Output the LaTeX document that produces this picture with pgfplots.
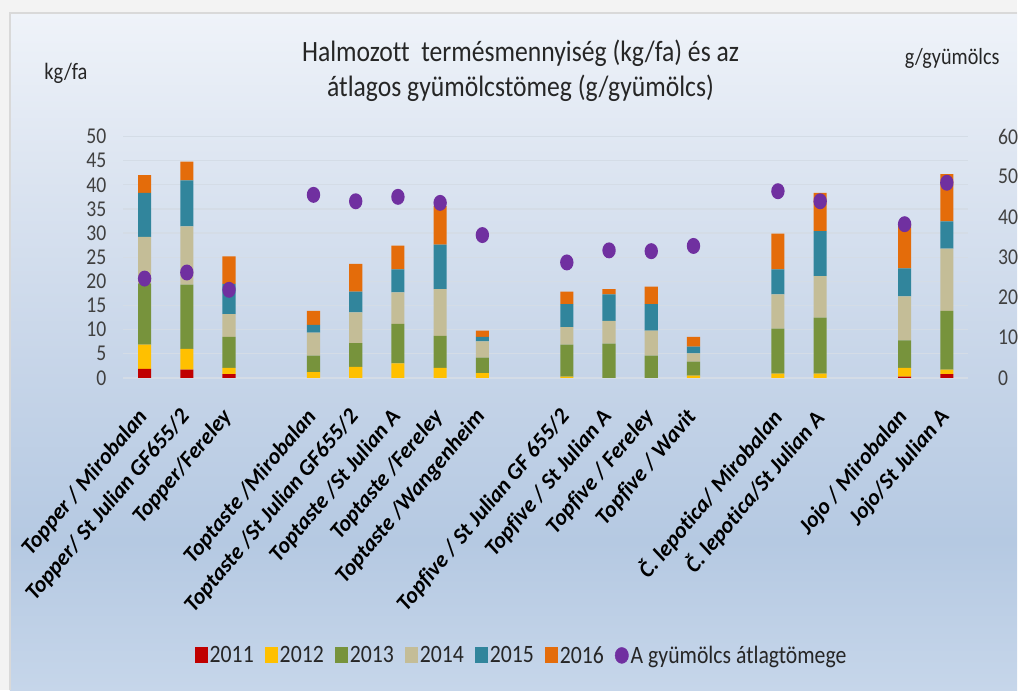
\documentclass[border=0pt]{standalone}
\usepackage{pgfplots}
\pgfplotsset{compat=1.18}
\usepackage{pgfplotstable}
\usepackage{fontspec}
\setmainfont{Carlito}[FakeStretch=0.87, Ligatures=NoCommon]
\newfontfamily\lblfont{Carlito}[Ligatures=NoCommon]

\definecolor{cA}{HTML}{C00000}
\definecolor{cB}{HTML}{FFC000}
\definecolor{cC}{HTML}{77933C}
\definecolor{cD}{HTML}{C4BD97}
\definecolor{cE}{HTML}{31859C}
\definecolor{cF}{HTML}{E46C0A}
\definecolor{dotc}{HTML}{7030A0}
\definecolor{txt}{HTML}{262626}
\definecolor{tickc}{HTML}{404040}
\definecolor{gridc}{HTML}{D4DCE6}
\definecolor{outerc}{HTML}{F3F3F3}
\definecolor{borderc}{HTML}{D9D9D9}
\definecolor{bgA}{HTML}{C6D6EA}
\definecolor{bgB}{HTML}{B5C9E2}
\definecolor{bgC}{HTML}{C8D6E9}
\definecolor{bgD}{HTML}{DAE3F0}
\definecolor{bgE}{HTML}{EFF3F9}

\pgfdeclareverticalshading{panelshade}{100bp}{color(0bp)=(bgA); color(25bp)=(bgA); color(36bp)=(bgB); color(50bp)=(bgC); color(62bp)=(bgD); color(75bp)=(bgE); color(100bp)=(bgE)}

\pgfdeclareplotmark{ellip}{\pgfpathellipse{\pgfpointorigin}{\pgfqpoint{6.7pt}{0pt}}{\pgfqpoint{0pt}{8pt}}\pgfusepathqfill}

\pgfplotstableread{
x  y11 y12 y13  y14  y15 y16 dot
0  1.9 5.0 12.7 9.6  9.1 3.7 24.7
1  1.7 4.3 13.3 12.1 9.5 3.9 26.2
2  0.8 1.3 6.4  4.7  6.3 5.7 21.9
4  0   1.2 3.4  4.8  1.6 2.9 45.5
5  0   2.3 4.9  6.4  4.3 5.7 43.9
6  0   3.0 8.2  6.5  4.8 4.9 45.0
7  0   2.1 6.6  9.7  9.2 8.0 43.5
8  0   1.0 3.2  3.4  0.9 1.3 35.5
10 0   0.3 6.6  3.6  4.8 2.6 28.7
11 0   0   7.1  4.7  5.5 1.1 31.7
12 0   0   4.6  5.2  5.5 3.6 31.5
13 0   0.5 2.9  1.7  1.4 2.0 32.8
15 0   0.9 9.3  7.1  5.2 7.4 46.4
16 0   0.9 11.6 8.6  9.3 7.9 43.9
18 0.3 1.8 5.7  9.1  5.8 9.1 38.2
19 0.8 0.9 12.2 12.9 5.6 9.8 48.5
}\datatab

\begin{document}
\begin{tikzpicture}
\begin{scope}[x=1pt,y=1pt]
\path[use as bounding box] (0,0) rectangle (1018,691);
\fill[outerc] (0,0) rectangle (1018,691);
\shade[shading=panelshade] (10,0) rectangle (1018,678);
\draw[borderc, line width=1.2pt] (10,0) -- (10,678) -- (1018,678);
\node[font=\fontsize{29.5}{35}\selectfont, text=txt, align=center] at (521,620.5) {Halmozott\ \ termésmennyiség (kg/fa) és az\\átlagos gyümölcstömeg (g/gyümölcs)};
\node[font=\fontsize{23.5}{25}\selectfont, text=txt] at (66,618) {kg/fa};
\node[font=\fontsize{23.2}{25}\selectfont, text=txt] at (953,632) {g/gyümölcs};
\end{scope}

\begin{axis}[
  at={(123.6pt,312.7pt)}, anchor=south west,
  scale only axis, width=845.2pt, height=241.7pt,
  xmin=-0.5, xmax=19.5, ymin=0, ymax=50,
  ybar stacked, bar width=0.31,
  axis line style={draw=none},
  major tick length=0pt,
  /pgf/number format/assume math mode=true,
  ytick={0,5,...,50},
  ymajorgrids, grid style={gridc, line width=1.3pt},
  xtick={0,1,2,4,5,6,7,8,10,11,12,13,15,16,18,19},
  xticklabels={Topper / Mirobalan, Topper/ St Julian GF655/2, Topper/Fereley,
    Toptaste /Mirobalan, Toptaste /St Julian GF655/2, Toptaste /St Julian A, Toptaste /Fereley, Toptaste /Wangenheim,
    Topfive / St Julian GF 655/2, Topfive / St Julian A, Topfive / Fereley, Topfive / Wavit,
    Č. lepotica/ Mirobalan, Č. lepotica/St Julian A, Jojo / Mirobalan, Jojo/St Julian A},
  xticklabel style={font=\lblfont\fontsize{22.5}{24}\selectfont\bfseries\itshape, text=black, inner sep=0pt, xshift=-8.7pt, yshift=-28.7pt, rotate=50, anchor=north east},
  yticklabel style={font=\fontsize{22.6}{24}\selectfont, text=tickc, inner sep=0pt, xshift=-17pt, anchor=east},
  legend columns=-1,
  legend style={at={(0.4714,-1.149)}, anchor=center, draw=none, fill=none,
    font=\fontsize{25}{26}\selectfont, text=txt, inner sep=0pt,
    /tikz/every even column/.append style={column sep=9pt}},
  legend image code/.code={\fill[#1] (0pt,-8pt) rectangle (13pt,8pt);},
]
\addplot[fill=cA, draw=none] table[x=x,y=y11]{\datatab};
\addplot[fill=cB, draw=none] table[x=x,y=y12]{\datatab};
\addplot[fill=cC, draw=none] table[x=x,y=y13]{\datatab};
\addplot[fill=cD, draw=none] table[x=x,y=y14]{\datatab};
\addplot[fill=cE, draw=none] table[x=x,y=y15]{\datatab};
\addplot[fill=cF, draw=none] table[x=x,y=y16]{\datatab};
\addlegendimage{legend image code/.code={\fill[dotc] (6.7pt,0pt) ellipse [x radius=6.7pt, y radius=8pt];}}
\legend{2011,2012,2013,2014,2015,2016,A gyümölcs átlagtömege}
\end{axis}

\begin{axis}[
  at={(123.6pt,312.7pt)}, anchor=south west,
  scale only axis, width=845.2pt, height=241.7pt,
  xmin=-0.5, xmax=19.5, ymin=0, ymax=60,
  axis x line=none, axis y line*=right,
  axis line style={draw=none},
  major tick length=0pt,
  /pgf/number format/assume math mode=true,
  ytick={0,10,...,60},
  yticklabel style={font=\fontsize{22.6}{24}\selectfont, text=tickc, inner sep=0pt, xshift=30pt, anchor=west},
]
\addplot[only marks, mark=ellip, color=dotc] table[x=x,y=dot]{\datatab};
\end{axis}
\end{tikzpicture}
\end{document}
